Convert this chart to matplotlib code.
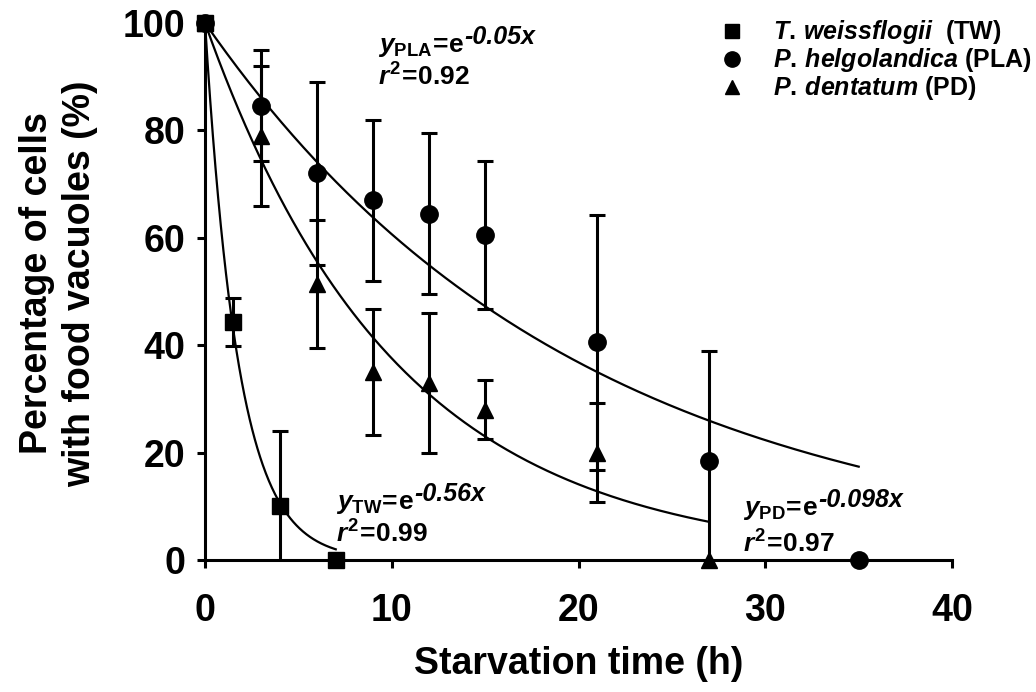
import numpy as np
import matplotlib
matplotlib.use("Agg")
import matplotlib.pyplot as plt
from matplotlib.lines import Line2D

plt.rcParams['font.family'] = ['Liberation Sans', 'DejaVu Sans']
plt.rcParams['font.weight'] = 'bold'
plt.rcParams['mathtext.fontset'] = 'custom'
plt.rcParams['mathtext.rm'] = 'Liberation Sans:bold'
plt.rcParams['mathtext.it'] = 'Liberation Sans:bold:italic'
plt.rcParams['mathtext.bf'] = 'Liberation Sans:bold'
plt.rcParams['mathtext.default'] = 'it'

# T. weissflogii (TW)
tw_x = [0, 1.5, 4, 7]
tw_y = [100, 44.3, 10, 0]
tw_err = [0, 4.5, 14, 0]

# P. helgolandica (PLA)
pla_x = [0, 3, 6, 9, 12, 15, 21, 27, 35]
pla_y = [100, 84.6, 72, 67, 64.5, 60.5, 40.5, 18.5, 0]
pla_err = [0, 10.3, 17, 15, 15, 13.8, 23.8, 20.5, 0]

# P. dentatum (PD)
pd_x = [0, 3, 6, 9, 12, 15, 21, 27]
pd_y = [100, 79, 51.4, 35, 33, 28, 20, 0]
pd_err = [0, 13, 12, 11.7, 13, 5.5, 9.2, 0]

# fitted decay rates, y = 100*exp(-k x), and where each fit ends
k_tw, k_pla, k_pd = 0.56, 0.05, 0.098
end_tw, end_pla, end_pd = 7, 35, 27

fig = plt.figure(figsize=(10.36, 6.92), dpi=100)
ax = fig.add_axes([0.1979, 0.1908, 0.919 - 0.1979, 0.9668 - 0.1908])

# fitted curves
for k, end in [(k_tw, end_tw), (k_pla, end_pla), (k_pd, end_pd)]:
    xs = np.linspace(0, end, 300)
    ax.plot(xs, 100 * np.exp(-k * xs), color='black', lw=1.6, zorder=2)

# error bars (clipped at the x axis)
for x, y, e in [(tw_x, tw_y, tw_err), (pla_x, pla_y, pla_err), (pd_x, pd_y, pd_err)]:
    xe = [a for a, b in zip(x, e) if b > 0]
    ye = [a for a, b in zip(y, e) if b > 0]
    ee = [b for b in e if b > 0]
    ax.errorbar(xe, ye, yerr=ee, fmt='none', ecolor='black', elinewidth=2.2,
                capsize=6, capthick=2.2, zorder=3)

# markers
ax.plot(tw_x, tw_y, 's', color='black', ms=11, clip_on=False, zorder=4)
ax.plot(pla_x, pla_y, 'o', color='black', ms=12.5, clip_on=False, zorder=4)
ax.plot(pd_x, pd_y, '^', color='black', ms=12, clip_on=False, zorder=4)

ax.set_xlim(0, 40)
ax.set_ylim(0, 100)
ax.set_xticks([0, 10, 20, 30, 40])
ax.set_yticks([0, 20, 40, 60, 80, 100])
for s in ['top', 'right']:
    ax.spines[s].set_visible(False)
for s in ['left', 'bottom']:
    ax.spines[s].set_linewidth(2.2)
ax.tick_params(direction='out', length=6, width=2.2, labelsize=27)
ax.tick_params(axis='y', pad=8)
ax.tick_params(axis='x', pad=18)
for lab in ax.get_xticklabels() + ax.get_yticklabels():
    lab.set_fontweight('bold')

ax.set_xlabel('Starvation time (h)', fontsize=27, fontweight='bold', labelpad=12)
ax.set_ylabel('Percentage of cells\nwith food vacuoles (%)', fontsize=27,
              fontweight='bold', linespacing=1.25)
ax.yaxis.set_label_coords(-0.143, 0.515)


def equation(x, y, sub, expo, r2, dy=6.2):
    t = ax.text(x, y, r'$y_{\mathrm{%s}}\!=\!\mathrm{e}$' % sub, fontsize=19)
    ax.annotate(expo, xy=(1, 0), xycoords=t, xytext=(0.5, 11),
                textcoords='offset points', fontsize=18, fontstyle='italic',
                fontweight='bold', va='baseline')
    ax.text(x, y - dy, r'$r^{2}\!=\!%s$' % r2, fontsize=19)


equation(7.0, 9.4, 'TW', '-0.56x', '0.99')
equation(9.25, 94.6, 'PLA', '-0.05x', '0.92')
equation(28.8, 8.4, 'PD', '-0.098x', '0.97', dy=7.0)

handles = [
    Line2D([], [], marker='s', color='black', ls='none', ms=10),
    Line2D([], [], marker='o', color='black', ls='none', ms=11),
    Line2D([], [], marker='^', color='black', ls='none', ms=10),
]
labels = [r'$T.\,weissflogii$  (TW)', r'$P.\,helgolandica$ (PLA)', r'$P.\,dentatum$ (PD)']
fig.legend(handles, labels, loc='upper left', bbox_to_anchor=(0.673, 0.988),
           frameon=False, prop={'size': 18, 'weight': 'bold'},
           handlelength=2.0, handletextpad=0.65, labelspacing=0.0, borderaxespad=0)

fig.savefig('out.png', dpi=100)
